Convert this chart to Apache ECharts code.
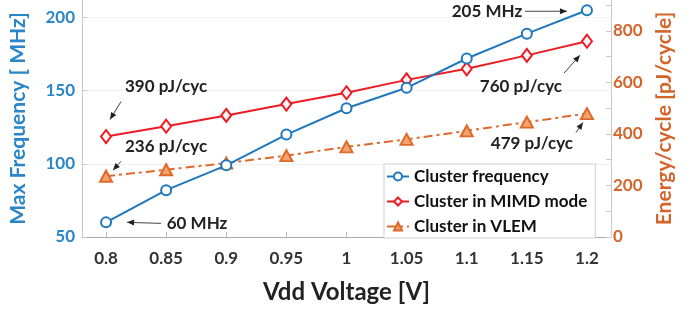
<!DOCTYPE html>
<html>
<head>
<meta charset="utf-8">
<script src="https://cdn.jsdelivr.net/npm/echarts@6/dist/echarts.min.js"></script>
<style>
html, body { margin: 0; padding: 0; background: #fff; }
#chart { width: 699px; height: 309px; }
</style>
</head>
<body>
<div id="chart"></div>
<script>
// values
var voltages = [0.8, 0.85, 0.9, 0.95, 1.0, 1.05, 1.1, 1.15, 1.2];
var freqMHz = [60, 82, 99, 120, 138, 152, 172, 189, 205];
var mimdEnergy = [390, 430, 472, 516, 560, 610, 653, 705, 760];
var vlemEnergy = [236, 261, 287, 316, 350, 379, 412, 446, 479];

var xTickValues = [0.8, 0.85, 0.9, 0.95, 1.0, 1.05, 1.1, 1.15, 1.2];
var freqTickValues = [50, 100, 150, 200];
var energyLabelValues = [0, 200, 400, 600, 800];
var energyTickValues = [0, 100, 200, 300, 400, 500, 600, 700, 800, 900];

// callouts: series, point index, text, offsets from the point (text centre, arrow start, arrow end)
var notes = [
  { s: 1, i: 0, text: '390 pJ/cyc', t: [60, -50], a: [15, -35], b: [4, -17] },
  { s: 2, i: 0, text: '236 pJ/cyc', t: [60, -30], a: [15, -15], b: [7, -6] },
  { s: 0, i: 0, text: '60 MHz', t: [91, 1], a: [55, 1], b: [21, 0] },
  { s: 0, i: 8, text: '205 MHz', t: [-100, 1], a: [-62, 1], b: [-20, 1] },
  { s: 1, i: 8, text: '760 pJ/cyc', t: [-66, 45], a: [-23, 32], b: [-7, 14] },
  { s: 2, i: 8, text: '479 pJ/cyc', t: [-55, 30], a: [-11, 19], b: [-4, 9] }
];

var FONT = 'Lato, "Open Sans", sans-serif';
var BLUE = '#1f77bd';
var RED = '#ec1c24';
var ORANGE = '#dd6a2c';

function pairs(ys) {
  return voltages.map(function (v, k) { return [v, ys[k]]; });
}

var chart = echarts.init(document.getElementById('chart'));

var option = {
  backgroundColor: '#fff',
  animation: false,
  textStyle: { fontFamily: FONT },
  grid: { left: 77, right: 88, top: 0, bottom: 61 },
  legend: {
    orient: 'vertical',
    left: 384,
    top: 164,
    itemWidth: 22,
    itemHeight: 10,
    itemGap: 8,
    padding: [4, 8, 3, 2],
    borderColor: '#cfcfcf',
    borderWidth: 1,
    backgroundColor: '#fff',
    textStyle: { fontFamily: FONT, fontSize: 17, fontWeight: 'bold', color: '#111' },
    data: ['Cluster frequency', 'Cluster in MIMD mode', 'Cluster in VLEM']
  },
  xAxis: {
    type: 'value',
    min: 0.78,
    max: 1.22,
    name: 'Vdd Voltage [V]',
    nameLocation: 'middle',
    nameGap: 43,
    nameTextStyle: { fontFamily: FONT, fontSize: 24, fontWeight: 'bold', color: '#222' },
    axisLine: { lineStyle: { color: '#aaa', width: 1 } },
    axisTick: { inside: true, length: 5, customValues: xTickValues, lineStyle: { color: '#bbb' } },
    axisLabel: {
      customValues: xTickValues,
      margin: 13,
      fontFamily: FONT, fontSize: 17, fontWeight: 'bold', color: '#333',
      formatter: function (v) { return String(+v.toFixed(2)); }
    },
    splitLine: { show: false }
  },
  yAxis: [
    {
      type: 'value',
      position: 'left',
      min: 50,
      max: 212,
      interval: 50,
      name: 'Max Frequency [ MHz]',
      nameLocation: 'middle',
      nameRotate: 90,
      nameGap: 53,
      nameTextStyle: { fontFamily: FONT, fontSize: 21, fontWeight: 'bold', color: '#2a86c8' },
      axisLine: { show: true, lineStyle: { color: '#c8c8c8' } },
      axisTick: { show: true, inside: true, length: 5, customValues: freqTickValues, lineStyle: { color: '#c8c8c8' } },
      axisLabel: {
        customValues: freqTickValues,
        margin: 7,
        fontFamily: FONT, fontSize: 17, fontWeight: 'bold', color: '#2a86c8'
      },
      splitLine: { show: true, lineStyle: { color: '#f0f0f0' } }
    },
    {
      type: 'value',
      position: 'right',
      min: 0,
      max: 920,
      interval: 100,
      name: 'Energy/cycle [pJ/cycle]',
      nameLocation: 'middle',
      nameRotate: 90,
      nameGap: 42,
      nameTextStyle: { fontFamily: FONT, fontSize: 21, fontWeight: 'bold', color: '#d4642a' },
      axisLine: { show: true, lineStyle: { color: '#c8c8c8' } },
      axisTick: { show: true, inside: true, length: 5, customValues: energyTickValues, lineStyle: { color: '#c8c8c8' } },
      axisLabel: {
        customValues: energyLabelValues,
        margin: 2,
        fontFamily: FONT, fontSize: 17, fontWeight: 'bold', color: '#d4642a'
      },
      splitLine: { show: false }
    }
  ],
  series: [
    {
      name: 'Cluster frequency',
      type: 'line',
      yAxisIndex: 0,
      data: pairs(freqMHz),
      symbol: 'circle',
      symbolSize: 10,
      itemStyle: { color: '#fff', borderColor: BLUE, borderWidth: 2 },
      lineStyle: { color: BLUE, width: 2 },
      z: 3
    },
    {
      name: 'Cluster in MIMD mode',
      type: 'line',
      yAxisIndex: 1,
      data: pairs(mimdEnergy),
      symbol: 'diamond',
      symbolSize: [10, 13],
      itemStyle: { color: '#fff4f4', borderColor: RED, borderWidth: 2 },
      lineStyle: { color: RED, width: 2 },
      z: 2
    },
    {
      name: 'Cluster in VLEM',
      type: 'line',
      yAxisIndex: 1,
      data: pairs(vlemEnergy),
      symbol: 'triangle',
      symbolSize: [12, 11],
      itemStyle: { color: '#f2a46c', borderColor: ORANGE, borderWidth: 2 },
      lineStyle: { color: ORANGE, width: 2, type: [9, 4, 3, 4] },
      z: 2
    }
  ]
};

chart.setOption(option);

// place the callouts next to the plotted points
var seriesData = [freqMHz, mimdEnergy, vlemEnergy];
var graphics = [];
notes.forEach(function (n) {
  var p = chart.convertToPixel({ seriesIndex: n.s }, [voltages[n.i], seriesData[n.s][n.i]]);
  graphics.push({
    type: 'text',
    x: p[0] + n.t[0],
    y: p[1] + n.t[1],
    style: {
      text: n.text,
      fontFamily: FONT, fontSize: 17, fontWeight: 'bold', fill: '#222',
      align: 'center', verticalAlign: 'middle'
    },
    z: 10
  });
  var x1 = p[0] + n.a[0], y1 = p[1] + n.a[1];
  var x2 = p[0] + n.b[0], y2 = p[1] + n.b[1];
  graphics.push({
    type: 'line',
    shape: { x1: x1, y1: y1, x2: x2, y2: y2 },
    style: { stroke: '#444', lineWidth: 1 },
    z: 10
  });
  var ang = Math.atan2(y2 - y1, x2 - x1);
  var L = 7, W = 3;
  var bx = x2 - L * Math.cos(ang), by = y2 - L * Math.sin(ang);
  graphics.push({
    type: 'polygon',
    shape: { points: [
      [x2, y2],
      [bx + W * Math.sin(ang), by - W * Math.cos(ang)],
      [bx - W * Math.sin(ang), by + W * Math.cos(ang)]
    ] },
    style: { fill: '#222' },
    z: 10
  });
});
chart.setOption({ graphic: graphics });
</script>
</body>
</html>
